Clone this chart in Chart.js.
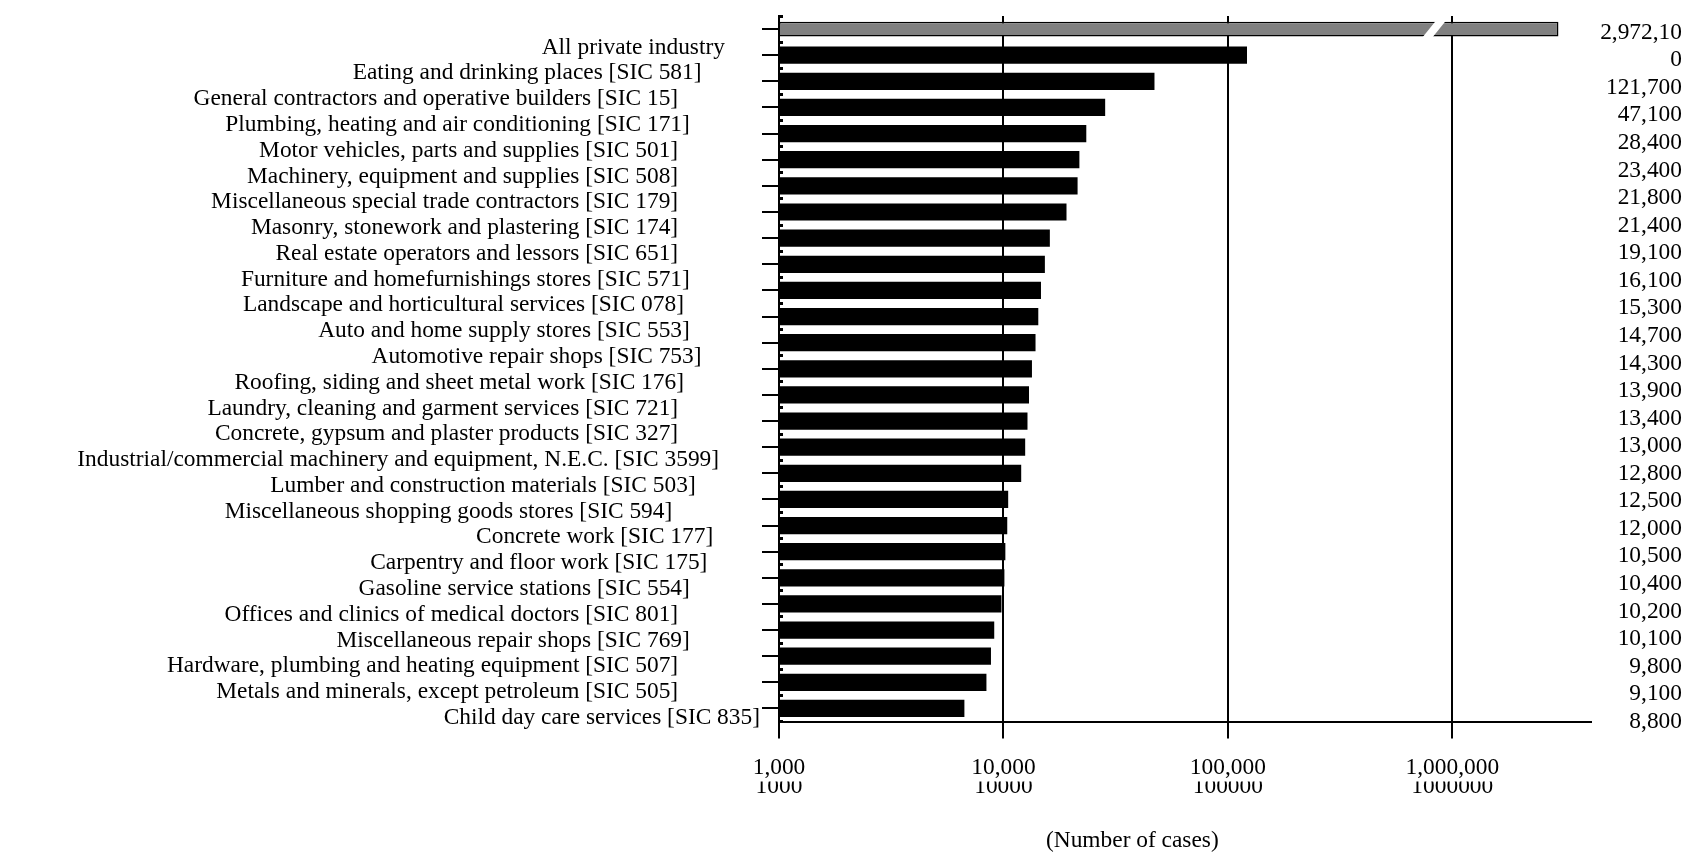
<!DOCTYPE html>
<html>
<head>
<meta charset="utf-8">
<title>Cases by industry</title>
<script src="https://cdn.jsdelivr.net/npm/chart.js@4.4.1/dist/chart.umd.min.js"></script>
<style>
  html, body { margin: 0; padding: 0; background: #fff; }
  #wrap { width: 1698px; height: 853px; position: relative; }
</style>
</head>
<body>
<div id="wrap"><canvas id="chart"></canvas></div>
<script>
// Industries, largest first
const categories = [
  'All private industry',
  'Eating and drinking places [SIC 581]',
  'General contractors and operative builders [SIC 15]',
  'Plumbing, heating and air conditioning [SIC 171]',
  'Motor vehicles, parts and supplies [SIC 501]',
  'Machinery, equipment and supplies [SIC 508]',
  'Miscellaneous special trade contractors [SIC 179]',
  'Masonry, stonework and plastering [SIC 174]',
  'Real estate operators and lessors [SIC 651]',
  'Furniture and homefurnishings stores [SIC 571]',
  'Landscape and horticultural services [SIC 078]',
  'Auto and home supply stores [SIC 553]',
  'Automotive repair shops [SIC 753]',
  'Roofing, siding and sheet metal work [SIC 176]',
  'Laundry, cleaning and garment services [SIC 721]',
  'Concrete, gypsum and plaster products [SIC 327]',
  'Industrial/commercial machinery and equipment, N.E.C. [SIC 3599]',
  'Lumber and construction materials [SIC 503]',
  'Miscellaneous shopping goods stores [SIC 594]',
  'Concrete work [SIC 177]',
  'Carpentry and floor work [SIC 175]',
  'Gasoline service stations [SIC 554]',
  'Offices and clinics of medical doctors [SIC 801]',
  'Miscellaneous repair shops [SIC 769]',
  'Hardware, plumbing and heating equipment [SIC 507]',
  'Metals and minerals, except petroleum [SIC 505]',
  'Child day care services [SIC 835]'
];

// Number of cases per industry
const cases = [
  2972100, 121700, 47100, 28400, 23400, 21800, 21400, 19100, 16100,
  15300, 14700, 14300, 13900, 13400, 13000, 12800, 12500, 12000,
  10500, 10400, 10200, 10100, 9800, 9100, 8800, 8400, 6700
];

// Value column printed at the right edge
const valueText = [
  '2,972,10', '0', '121,700', '47,100', '28,400', '23,400', '21,800',
  '21,400', '19,100', '16,100', '15,300', '14,700', '14,300', '13,900',
  '13,400', '13,000', '12,800', '12,500', '12,000', '10,500', '10,400',
  '10,200', '10,100', '9,800', '9,100', '8,800'
];

// Log axis ticks
const axisTicks = [1000, 10000, 100000, 1000000];
const axisTickText = ['1,000', '10,000', '100,000', '1,000,000'];
const axisTickPlain = ['1000', '10000', '100000', '1000000'];

// Ragged right edge of the category names (trailing spaces per name)
const labelPad = [6, 10, 14, 12, 14, 14, 14, 14, 14, 12, 13, 12, 10, 13,
                  14, 14, 7, 11, 15, 8, 9, 12, 14, 12, 14, 14, 0];

Chart.defaults.font.family = "'Liberation Serif', 'Times New Roman', serif";
Chart.defaults.font.size = 23.4;
Chart.defaults.color = '#000';

// White slanted cut across the long bar
const barBreak = {
  id: 'barBreak',
  afterDatasetsDraw(chart, args, opts) {
    const bar = chart.getDatasetMeta(0).data[0];
    if (!bar) return;
    const { y, height } = bar.getProps(['y', 'height'], true);
    const xb = chart.scales.x.getPixelForValue(opts.at);
    const half = height / 2 + 2;
    const slant = 0.8, gap = 10;
    const ctx = chart.ctx;
    ctx.save();
    ctx.fillStyle = '#fff';
    ctx.beginPath();
    ctx.moveTo(xb - gap / 2 - slant * half, y + half);
    ctx.lineTo(xb + gap / 2 - slant * half, y + half);
    ctx.lineTo(xb + gap / 2 + slant * half, y - half);
    ctx.lineTo(xb - gap / 2 + slant * half, y - half);
    ctx.closePath();
    ctx.fill();
    ctx.restore();
  }
};

const logMin = 1000, logMax = 4150000;
const setTicks = (list) => (scale) => { scale.ticks = list.map((v) => ({ value: v })); };

new Chart(document.getElementById('chart'), {
  type: 'bar',
  data: {
    labels: categories,
    datasets: [
      {
        label: 'All private industry',
        data: cases.map((v, i) => (i === 0 ? v : null)),
        backgroundColor: '#808080',
        borderColor: '#000',
        borderWidth: 1.5,
        borderSkipped: false,
        barPercentage: 0.57,
        categoryPercentage: 1,
        grouped: false
      },
      {
        label: 'Industries',
        data: cases.map((v, i) => (i === 0 ? null : v)),
        backgroundColor: '#000',
        borderWidth: 0,
        barPercentage: 0.66,
        categoryPercentage: 1,
        grouped: false
      }
    ]
  },
  options: {
    indexAxis: 'y',
    responsive: true,
    maintainAspectRatio: false,
    animation: false,
    layout: { padding: { top: 10, right: 16, bottom: 0, left: 0 } },
    plugins: {
      legend: { display: false },
      tooltip: { enabled: false },
      barBreak: { at: 830000 }
    },
    scales: {
      x: {
        type: 'logarithmic',
        position: 'bottom',
        weight: 0,
        min: logMin,
        max: logMax,
        afterBuildTicks: setTicks(axisTicks),
        afterFit: (s) => { s.height = 60; },
        grid: { color: '#000', lineWidth: 2, drawTicks: true, tickLength: 17 },
        border: { display: true, color: '#000', width: 2 },
        ticks: {
          autoSkip: false,
          maxRotation: 0,
          padding: 15.5,
          font: { size: 23.4, lineHeight: 1.2 },
          callback: (v, i) => axisTickText[i]
        }
      },
      x2: {
        type: 'logarithmic',
        axis: 'x',
        position: 'bottom',
        weight: 1,
        min: logMin,
        max: logMax,
        afterBuildTicks: setTicks(axisTicks),
        afterFit: (s) => { s.height = 71.5; },
        grid: { display: false, drawTicks: false },
        border: { display: false },
        ticks: {
          autoSkip: false,
          maxRotation: 0,
          padding: -8.5,
          font: { size: 23.4, lineHeight: 1.2 },
          callback: (v, i) => axisTickPlain[i]
        },
        title: {
          display: true,
          text: '(Number of cases)' + ' '.repeat(18),
          font: { size: 23.4, lineHeight: 1 },
          padding: { top: 0, bottom: 0 }
        }
      },
      y: {
        type: 'category',
        position: 'left',
        weight: 0,
        offset: true,
        afterFit: (s) => { s.width = 17; },
        grid: { offset: false, drawOnChartArea: false, drawTicks: true, tickLength: 17, color: '#000', lineWidth: 2 },
        border: { display: true, color: '#000', width: 2 },
        ticks: { display: false, autoSkip: false }
      },
      yl: {
        type: 'linear',
        axis: 'y',
        position: 'left',
        weight: 1,
        reverse: true,
        offset: false,
        bounds: 'data',
        min: -1.219,
        max: 26.146,
        afterBuildTicks: setTicks(categories.map((_, i) => i)),
        afterFit: (s) => { s.width = 762; },
        grid: { display: false, drawTicks: false, offset: false },
        border: { display: false },
        ticks: {
          autoSkip: false,
          padding: 2,
          font: { size: 23.4 },
          callback: (v, i) => categories[i] + ' '.repeat(labelPad[i])
        }
      },
      yr: {
        type: 'linear',
        axis: 'y',
        position: 'right',
        reverse: true,
        offset: false,
        bounds: 'data',
        min: -0.601,
        max: 24.993,
        afterBuildTicks: setTicks(valueText.map((_, i) => i)),
        afterFit: (s) => { s.width = 91; },
        grid: { display: false, drawTicks: false, offset: false },
        border: { display: false },
        ticks: {
          autoSkip: false,
          padding: 0,
          crossAlign: 'far',
          font: { size: 23.4 },
          callback: (v, i) => valueText[i]
        }
      },
      ySq: {
        type: 'category',
        axis: 'y',
        position: { x: 1000 },
        offset: true,
        grid: { offset: true, drawOnChartArea: false, drawTicks: true, tickLength: -4, color: '#000', lineWidth: 3, z: 1 },
        border: { display: false },
        ticks: { display: false, autoSkip: false }
      }
    }
  },
  plugins: [barBreak]
});
</script>
</body>
</html>
